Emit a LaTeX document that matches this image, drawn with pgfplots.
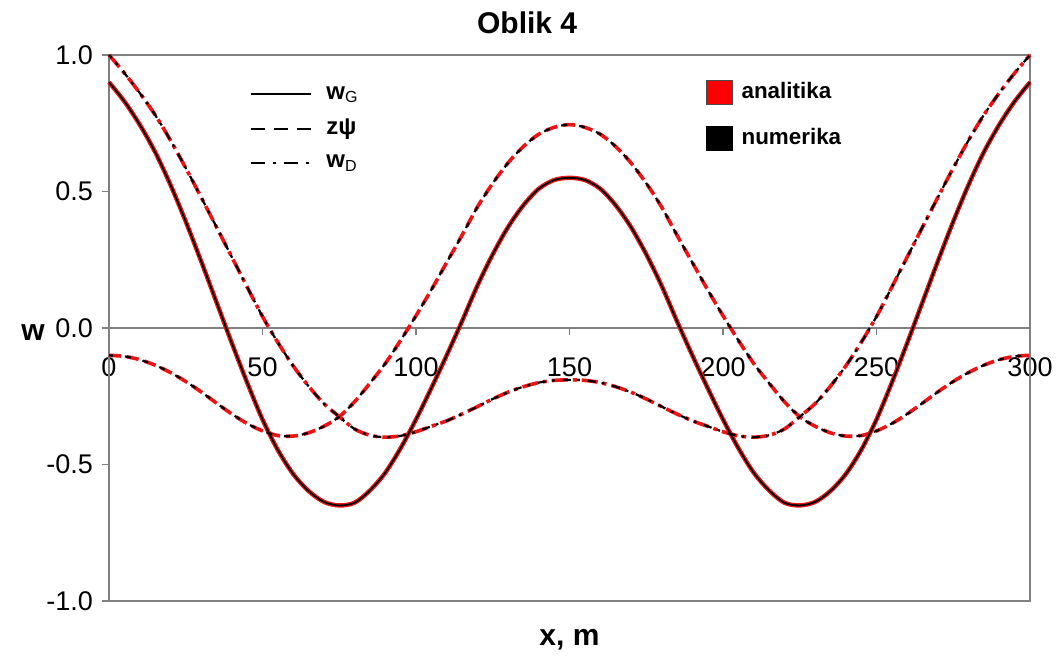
\documentclass[border=0pt]{standalone}
\usepackage{pgfplots}
\usepackage{pgfplotstable}
\pgfplotsset{compat=1.18}
\usepackage{fontspec}
\setmainfont{Liberation Sans}

\pgfplotstableread{
x wG zpsi wD
0 0.900 -0.100 1.000
5 0.830 -0.104 0.934
10 0.745 -0.116 0.861
15 0.645 -0.136 0.781
20 0.525 -0.163 0.688
25 0.390 -0.196 0.586
30 0.245 -0.234 0.479
35 0.095 -0.275 0.370
40 -0.055 -0.315 0.260
45 -0.200 -0.350 0.150
50 -0.335 -0.377 0.042
55 -0.447 -0.394 -0.053
60 -0.535 -0.396 -0.139
65 -0.597 -0.384 -0.213
70 -0.637 -0.360 -0.277
75 -0.650 -0.325 -0.325
80 -0.640 -0.270 -0.370
85 -0.595 -0.202 -0.393
90 -0.530 -0.130 -0.400
95 -0.440 -0.045 -0.395
100 -0.335 0.045 -0.380
105 -0.220 0.140 -0.360
110 -0.100 0.240 -0.340
115 0.025 0.340 -0.315
120 0.155 0.443 -0.288
125 0.270 0.530 -0.260
130 0.370 0.605 -0.235
135 0.450 0.665 -0.215
140 0.510 0.710 -0.200
145 0.542 0.735 -0.192
150 0.550 0.745 -0.190
155 0.542 0.735 -0.192
160 0.510 0.710 -0.200
165 0.450 0.665 -0.215
170 0.370 0.605 -0.235
175 0.270 0.530 -0.260
180 0.155 0.443 -0.288
185 0.025 0.340 -0.315
190 -0.100 0.240 -0.340
195 -0.220 0.140 -0.360
200 -0.335 0.045 -0.380
205 -0.440 -0.045 -0.395
210 -0.530 -0.130 -0.400
215 -0.595 -0.202 -0.393
220 -0.640 -0.270 -0.370
225 -0.650 -0.325 -0.325
230 -0.637 -0.360 -0.277
235 -0.597 -0.384 -0.213
240 -0.535 -0.396 -0.139
245 -0.447 -0.394 -0.053
250 -0.335 -0.377 0.042
255 -0.200 -0.350 0.150
260 -0.055 -0.315 0.260
265 0.095 -0.275 0.370
270 0.245 -0.234 0.479
275 0.390 -0.196 0.586
280 0.525 -0.163 0.688
285 0.645 -0.136 0.781
290 0.745 -0.116 0.861
295 0.830 -0.104 0.934
300 0.900 -0.100 1.000
}\data

\definecolor{axgray}{RGB}{128,128,128}
\definecolor{anred}{RGB}{235,20,20}

\begin{document}
\begin{tikzpicture}
\begin{axis}[
  name=main,
  scale only axis, width=460.5pt, height=273pt,
  xmin=0, xmax=300, ymin=-1, ymax=1,
  axis x line=middle, axis y line=left,
  hide obscured x ticks=false,
  axis line style={draw=axgray, line width=0.8pt, -},
  xtick={0,50,100,150,200,250,300},
  xticklabels={0,50,100,150,200,250,300},
  ytick={-1,-0.5,0,0.5,1},
  yticklabels={-1.0,-0.5,0.0,0.5,1.0},
  tick style={draw=axgray, line width=0.8pt},
  major tick length=3.5pt,
  tick align=outside,
  ticklabel style={font=\fontsize{13.5}{16}\selectfont, text=black},
  xticklabel style={yshift=-8pt},
  yticklabel style={xshift=-1pt},
  clip=false,
  title={Oblik 4},
  title style={at={(rel axis cs:0.454,1)}, anchor=center, yshift=10.25pt, font=\bfseries\fontsize{15}{18}\selectfont},
  xlabel={x, m},
  ylabel={w},
  every axis x label/.style={at={(rel axis cs:0.5,0)}, anchor=center, yshift=-19.5pt, font=\bfseries\fontsize{15}{18}\selectfont},
  every axis y label/.style={at={(rel axis cs:0,0.491)}, anchor=center, xshift=-38pt, font=\bfseries\fontsize{15}{18}\selectfont},
  legend image code/.code={\draw[#1, line width=1pt] (0pt,0pt) -- (30pt,0pt);},
  legend style={at={(axis cs:44,0.915)}, anchor=north west, draw=none, fill=none,
    font=\bfseries\fontsize{12}{14}\selectfont, row sep=4.5pt,
    nodes={inner xsep=7pt, inner ysep=2pt}},
  legend cell align=left,
]
\coordinate (SW) at (rel axis cs:0,0);
\coordinate (NE) at (rel axis cs:1,1);
\draw[axgray, line width=0.8pt] (rel axis cs:0,0) rectangle (rel axis cs:1,1);

% analitika (red)
\addplot[anred, line width=2.2pt, smooth, forget plot] table[x=x, y=wG] {\data};
\addplot[anred, line width=1.8pt, smooth, dash pattern=on 6pt off 3pt, forget plot] table[x=x, y=zpsi] {\data};
\addplot[anred, line width=1.8pt, smooth, dash pattern=on 8pt off 2.5pt on 2pt off 2.5pt, forget plot] table[x=x, y=wD] {\data};
% numerika (black)
\addplot[black, line width=0.9pt, smooth, forget plot] table[x=x, y=wG] {\data};
\addplot[black, line width=1.1pt, smooth, dash pattern=on 3pt off 6pt, dash phase=1pt, forget plot] table[x=x, y=zpsi] {\data};
\addplot[black, line width=1.1pt, smooth, dash pattern=on 4pt off 3pt on 1.5pt off 4pt, dash phase=2pt, forget plot] table[x=x, y=wD] {\data};

\addlegendimage{black, solid}
\addlegendentry{w\textsubscript{\mdseries G}}
\addlegendimage{black, dash pattern=on 7pt off 4.5pt}
\addlegendentry{zψ}
\addlegendimage{black, dash pattern=on 7pt off 4pt on 1.5pt off 4pt}
\addlegendentry{w\textsubscript{\mdseries D}}
\end{axis}

\begin{axis}[
  scale only axis, width=460.5pt, height=273pt,
  xmin=0, xmax=300, ymin=-1, ymax=1,
  hide axis,
  legend image code/.code={\draw[#1] (0pt,-6pt) rectangle (12.5pt,6pt);},
  legend style={at={(axis cs:192.5,0.93)}, anchor=north west, draw=none, fill=none,
    font=\bfseries\fontsize{11.2}{13}\selectfont, row sep=9.5pt,
    nodes={inner xsep=4.5pt, inner ysep=2pt}},
  legend cell align=left,
]
\addplot[draw=none, forget plot] coordinates {(0,0)};
\addlegendimage{fill=red, draw=black!70, line width=0.6pt}
\addlegendentry{analitika}
\addlegendimage{fill=black, draw=black, line width=0.6pt}
\addlegendentry{numerika}
\end{axis}

\pgfresetboundingbox
\path[use as bounding box] ([shift={(-54.5pt,-32.5pt)}]SW) rectangle ([shift={(13pt,27.5pt)}]NE);
\end{tikzpicture}
\end{document}
